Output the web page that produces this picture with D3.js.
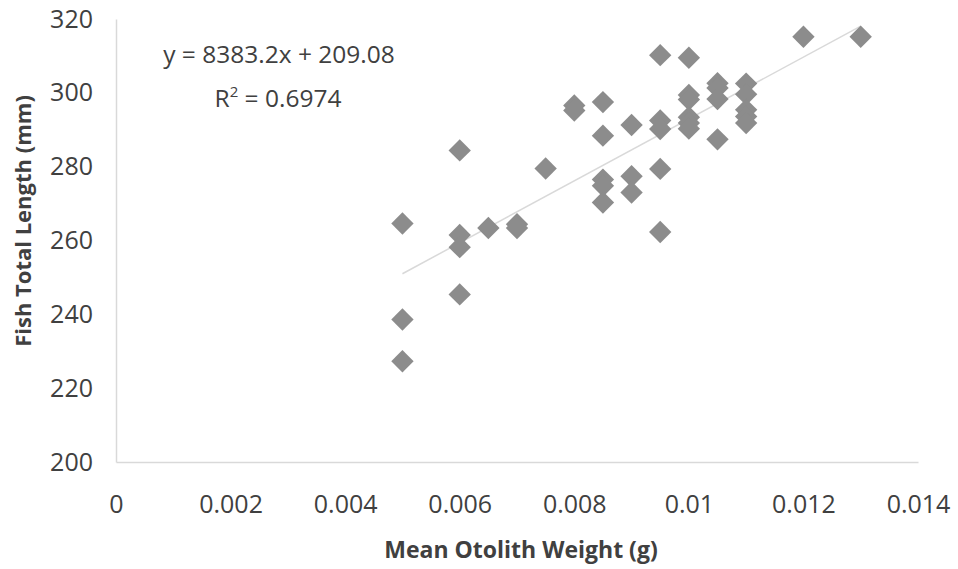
<!DOCTYPE html>
<html>
<head>
<meta charset="utf-8">
<script src="https://cdn.jsdelivr.net/npm/d3@7"></script>
<style>
  body { margin: 0; background: #fff; }
  svg { display: block; font-family: "Open Sans", sans-serif; }
</style>
</head>
<body>
<svg width="958" height="569"></svg>
<script>
// mean otolith weight (g) per fish
const otolithWeight = [
    0.005, 0.005, 0.005,
    0.006, 0.006, 0.006, 0.006,
    0.0065,
    0.007, 0.007,
    0.0075,
    0.008, 0.008,
    0.0085, 0.0085, 0.0085, 0.0085, 0.0085,
    0.009, 0.009, 0.009,
    0.0095, 0.0095, 0.0095, 0.0095, 0.0095,
    0.01, 0.01, 0.01, 0.01, 0.01, 0.01,
    0.0105, 0.0105, 0.0105, 0.0105,
    0.011, 0.011, 0.011, 0.011, 0.011,
    0.012,
    0.013
];
// fish total length (mm)
const totalLength = [
    264.6, 238.6, 227.3,
    284.4, 261.5, 258.2, 245.4,
    263.4,
    264.4, 263.4,
    279.5,
    296.6, 295.2,
    297.5, 288.4, 276.5, 274.8, 270.3,
    291.3, 277.4, 273.0,
    310.2, 292.5, 290.2, 279.4, 262.3,
    309.5, 299.4, 298.2, 293.4, 291.8, 290.3,
    302.6, 301.3, 298.3, 287.4,
    302.5, 299.6, 295.4, 293.6, 291.8,
    315.2,
    315.2
];
const xTicks = [0, 0.002, 0.004, 0.006, 0.008, 0.01, 0.012, 0.014];
const yTicks = [200, 220, 240, 260, 280, 300, 320];
const trendSlope = 8383.2;
const trendIntercept = 209.08;
const rSquared = "0.6974";

const margin = {top: 19, right: 40, bottom: 107, left: 116};
const width = 958 - margin.left - margin.right;
const height = 569 - margin.top - margin.bottom;

const svg = d3.select("svg");
const g = svg.append("g").attr("transform", `translate(${margin.left},${margin.top})`);

const x = d3.scaleLinear().domain([0, 0.014]).range([0, width]);
const y = d3.scaleLinear().domain([200, 320]).range([height, 0]);

const axisColor = "#d9d9d9";
const textColor = "#404040";

// x axis
const xAxis = g.append("g")
    .attr("transform", `translate(0,${height})`)
    .call(d3.axisBottom(x).tickValues(xTicks).tickSize(0).tickPadding(33)
        .tickFormat(d => d3.format("")(+d.toFixed(3))))
    .attr("font-family", null).attr("font-size", 25);
xAxis.select(".domain").attr("stroke", axisColor).attr("stroke-width", 1.5);
xAxis.selectAll("text").attr("fill", textColor);

// y axis
const yAxis = g.append("g")
    .call(d3.axisLeft(y).tickValues(yTicks).tickSize(0).tickPadding(23))
    .attr("font-family", null).attr("font-size", 25);
yAxis.select(".domain").attr("stroke", axisColor).attr("stroke-width", 1.5);
yAxis.selectAll("text").attr("fill", textColor);

// linear trendline
const xr = d3.extent(otolithWeight);
g.append("line")
    .attr("x1", x(xr[0])).attr("y1", y(trendSlope * xr[0] + trendIntercept))
    .attr("x2", x(xr[1])).attr("y2", y(trendSlope * xr[1] + trendIntercept))
    .attr("stroke", "#d9d9d9")
    .attr("stroke-width", 1.5);

// diamond markers
const diamond = d3.symbol().type(d3.symbolSquare).size(250);
g.selectAll("path.pt")
    .data(otolithWeight.map((w, i) => ({w, l: totalLength[i]})))
    .join("path")
    .attr("class", "pt")
    .attr("d", diamond)
    .attr("transform", d => `translate(${x(d.w)},${y(d.l)}) rotate(45)`)
    .attr("fill", "#8c8c8c");

// equation label
const eq = svg.append("text")
    .attr("x", 279).attr("y", 63)
    .attr("text-anchor", "middle")
    .attr("font-size", 24.5)
    .attr("fill", textColor)
    .text(`y = ${trendSlope}x + ${trendIntercept}`);
const r2 = svg.append("text")
    .attr("x", 278).attr("y", 107)
    .attr("text-anchor", "middle")
    .attr("font-size", 24.5)
    .attr("fill", textColor);
r2.append("tspan").text("R");
r2.append("tspan").attr("dy", -10).attr("font-size", 15).text("2");
r2.append("tspan").attr("dy", 10).text(` = ${rSquared}`);

// axis titles
svg.append("text")
    .attr("x", 521).attr("y", 558)
    .attr("text-anchor", "middle")
    .attr("font-size", 23)
    .attr("font-weight", "bold")
    .attr("fill", textColor)
    .text("Mean Otolith Weight (g)");

svg.append("text")
    .attr("transform", "translate(31,221) rotate(-90)")
    .attr("text-anchor", "middle")
    .attr("font-size", 22)
    .attr("font-weight", "bold")
    .attr("fill", textColor)
    .text("Fish Total Length (mm)");
</script>
</body>
</html>
